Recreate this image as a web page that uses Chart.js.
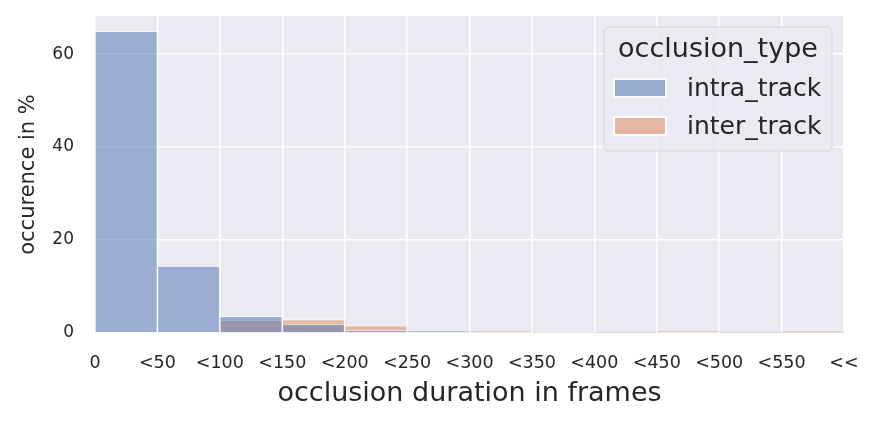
<!DOCTYPE html>
<html>
<head>
<meta charset="utf-8">
<script src="https://cdn.jsdelivr.net/npm/chart.js@4.4.1/dist/chart.umd.min.js"></script>
<style>
  body { margin: 0; background: #fff; }
  #wrap { width: 876px; height: 422px; }
</style>
</head>
<body>
<div id="wrap"><canvas id="chart"></canvas></div>
<script>
// bin edges as shown on the x axis
const edgeLabels = ['0', '<50', '<100', '<150', '<200', '<250', '<300', '<350', '<400', '<450', '<500', '<550', '<<'];
const binLabels = edgeLabels.slice(0, -1).map((e, i) => e + '-' + edgeLabels[i + 1]);

// occurence in % per bin
const intraTrack = [64.9, 14.4, 3.6, 1.9, 0.6, 0.4, 0.2, 0.2, 0.1, 0.2, 0.1, 0.1];
const interTrack = [0, 0, 2.7, 2.9, 1.6, 0.2, 0.4, 0.1, 0.1, 0.4, 0.1, 0.5];

const yTicks = [0, 20, 40, 60];
const yMax = 68.2;

const textColor = '#262626';
const blueFill = 'rgba(76, 114, 176, 0.5)';
const orangeFill = 'rgba(221, 132, 82, 0.5)';

// seaborn darkgrid background
const bgPlugin = {
    id: 'bg',
    beforeDraw: (chart) => {
        const { ctx, chartArea: a } = chart;
        ctx.save();
        ctx.fillStyle = '#eaeaf2';
        ctx.fillRect(a.left, a.top, a.right - a.left, a.bottom - a.top);
        ctx.restore();
    }
};

// legend box in the top right corner, like seaborn's
const legendPlugin = {
    id: 'boxLegend',
    afterDraw: (chart) => {
        const ctx = chart.ctx;
        const x = 604, y = 27, w = 228, h = 124;
        ctx.save();
        ctx.beginPath();
        ctx.roundRect(x, y, w, h, 5);
        ctx.fillStyle = 'rgba(234, 234, 242, 0.8)';
        ctx.fill();
        ctx.strokeStyle = 'rgba(204, 204, 204, 0.8)';
        ctx.lineWidth = 1;
        ctx.stroke();

        ctx.fillStyle = textColor;
        ctx.textBaseline = 'middle';
        ctx.textAlign = 'center';
        ctx.font = '27px "DejaVu Sans"';
        ctx.fillText('occlusion_type', x + w / 2, 50);

        const items = [
            { label: 'intra_track', color: 'rgb(154, 173, 208)', cy: 88 },
            { label: 'inter_track', color: 'rgb(228, 183, 162)', cy: 126 }
        ];
        ctx.textAlign = 'left';
        ctx.font = '25px "DejaVu Sans"';
        items.forEach(item => {
            ctx.fillStyle = item.color;
            ctx.fillRect(614, item.cy - 9, 52, 18);
            ctx.strokeStyle = '#ffffff';
            ctx.lineWidth = 2;
            ctx.strokeRect(614, item.cy - 9, 52, 18);
            ctx.fillStyle = textColor;
            ctx.fillText(item.label, 687, item.cy + 1);
        });
        ctx.restore();
    }
};

const ctx = document.getElementById('chart').getContext('2d');
new Chart(ctx, {
    type: 'bar',
    data: {
        labels: binLabels,
        datasets: [
            {
                label: 'intra_track',
                data: intraTrack,
                backgroundColor: blueFill,
                borderColor: 'rgba(255, 255, 255, 0.6)',
                borderWidth: 1
            },
            {
                label: 'inter_track',
                data: interTrack,
                backgroundColor: orangeFill,
                borderColor: 'rgba(255, 255, 255, 0.6)',
                borderWidth: 1
            }
        ]
    },
    options: {
        responsive: true,
        maintainAspectRatio: false,
        animation: false,
        layout: { padding: { top: 16, right: 32, left: 0, bottom: 0 } },
        datasets: {
            bar: { grouped: false, categoryPercentage: 1, barPercentage: 1 }
        },
        plugins: {
            legend: { display: false },
            tooltip: { enabled: false }
        },
        scales: {
            x: {
                display: false
            },
            xEdges: {
                type: 'linear',
                position: 'bottom',
                offset: false,
                min: 0,
                max: edgeLabels.length - 1,
                afterBuildTicks: (scale) => {
                    scale.ticks = edgeLabels.map((_, i) => ({ value: i }));
                },
                afterFit: (scale) => {
                    scale.height = 89;
                    scale.paddingLeft = 0;
                    scale.paddingRight = 0;
                },
                grid: { color: '#ffffff', lineWidth: 1.5, drawTicks: false, offset: false },
                border: { display: false },
                ticks: {
                    autoSkip: false,
                    maxRotation: 0,
                    padding: 20,
                    color: textColor,
                    font: { family: '"DejaVu Sans", sans-serif', size: 17.5 },
                    callback: (value) => edgeLabels[value]
                },
                title: {
                    display: true,
                    text: 'occlusion duration in frames',
                    color: textColor,
                    font: { family: '"DejaVu Sans", sans-serif', size: 27 },
                    padding: { top: 0, bottom: 12 }
                }
            },
            y: {
                min: 0,
                max: yMax,
                afterBuildTicks: (scale) => {
                    scale.ticks = yTicks.map(v => ({ value: v }));
                },
                afterFit: (scale) => {
                    scale.width = 95;
                    scale.paddingTop = 0;
                    scale.paddingBottom = 0;
                },
                grid: { color: '#ffffff', lineWidth: 1.5, drawTicks: false },
                border: { display: false },
                ticks: {
                    padding: 21,
                    color: textColor,
                    font: { family: '"DejaVu Sans", sans-serif', size: 17 }
                },
                title: {
                    display: true,
                    text: 'occurence in %',
                    color: textColor,
                    font: { family: '"DejaVu Sans", sans-serif', size: 21 },
                    padding: { top: 16, bottom: 0 }
                }
            }
        }
    },
    plugins: [bgPlugin, legendPlugin]
});
</script>
</body>
</html>
